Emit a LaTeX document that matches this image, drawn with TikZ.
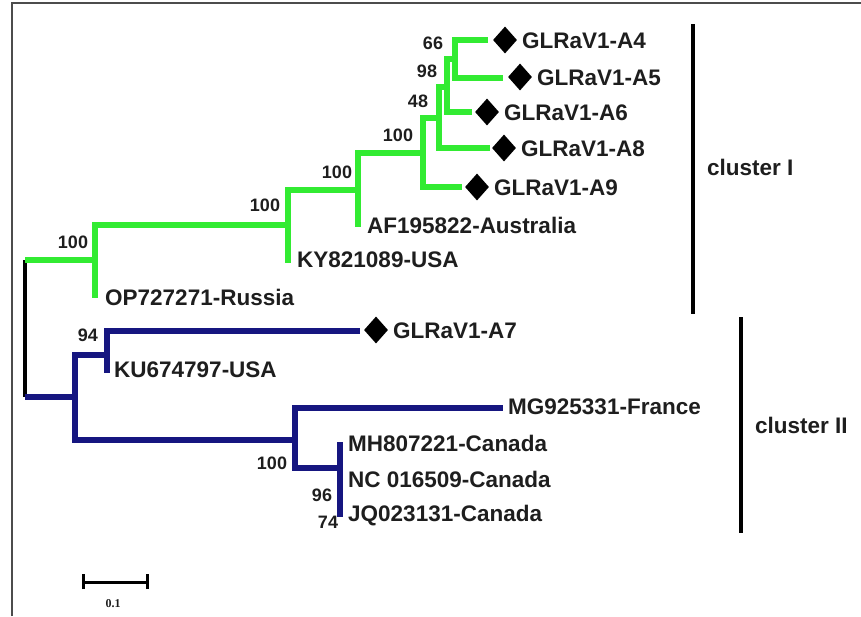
\documentclass[tikz,border=0pt]{standalone}
\usepackage{fontspec}
\setmainfont{Liberation Sans}
\newfontfamily\barfont{Liberation Serif}
\usepackage{tikz}
\usetikzlibrary{shapes.geometric}
\definecolor{cladegreen}{RGB}{50,235,50}
\definecolor{cladenavy}{RGB}{22,22,128}
\definecolor{labelink}{RGB}{30,30,30}

\begin{document}
\begin{tikzpicture}[x=1pt, y=-1pt,
      greenbranch/.style={draw=cladegreen, line width=5.5pt},
      navybranch/.style={draw=cladenavy, line width=5.5pt},
      rootline/.style={draw=black, line width=3.5pt},
      clusterbar/.style={draw=black, line width=4pt},
      gem/.style={diamond, fill=black, inner sep=0pt, minimum width=24pt, minimum height=27pt},
      taxon/.style={anchor=west, inner sep=0pt, text=labelink, font=\fontsize{22.5}{24}\selectfont\bfseries},
      boot/.style={inner sep=0pt, text=labelink, font=\fontsize{18}{19}\selectfont\bfseries}
    ]
      \useasboundingbox (0,0) rectangle (861,616);
      \draw[gray!60!black, line width=1.5pt] (12,616) -- (12,3) -- (861,3);

      % tree nodes
      \coordinate (rtop) at (25,260);
      \coordinate (rbot) at (25,397);
      \coordinate (nG) at (95,260);   \coordinate (op) at (95,298);
      \coordinate (nB) at (288,225);  \coordinate (ky) at (288,263);
      \coordinate (nC) at (358,190);  \coordinate (af) at (358,227);
      \coordinate (nD) at (423,153);  \coordinate (a9tip) at (462,187);
      \coordinate (n48) at (439,118); \coordinate (a8tip) at (490,148);
      \coordinate (n98) at (447,87);  \coordinate (a6tip) at (472,112);
      \coordinate (n66) at (455,59);  \coordinate (a4tip) at (488,40);
      \coordinate (a5tip) at (503,78);
      \coordinate (nG2) at (75,397);
      \coordinate (nH) at (107,355);  \coordinate (a7tip) at (360,331);
      \coordinate (ku) at (107,373);
      \coordinate (nI) at (295,440);  \coordinate (mgtip) at (503,408);
      \coordinate (nJ) at (340,468);  \coordinate (mh) at (340,442);
      \coordinate (jq) at (340,517);

      % branches
      \draw[rootline] (rtop) -- (rbot);
      \draw[greenbranch] (rtop) -- (nG);
      \draw[greenbranch] (nG) |- (nB);
      \draw[greenbranch] (nG) -- (op);
      \draw[greenbranch] (nB) |- (nC);
      \draw[greenbranch] (nB) -- (ky);
      \draw[greenbranch] (nC) |- (nD);
      \draw[greenbranch] (nC) -- (af);
      \draw[greenbranch] (nD) |- (n48);
      \draw[greenbranch] (nD) |- (a9tip);
      \draw[greenbranch] (n48) |- (n98);
      \draw[greenbranch] (n48) |- (a8tip);
      \draw[greenbranch] (n98) |- (n66);
      \draw[greenbranch] (n98) |- (a6tip);
      \draw[greenbranch] (n66) |- (a4tip);
      \draw[greenbranch] (n66) |- (a5tip);

      \draw[navybranch] (rbot) -- (nG2);
      \draw[navybranch] (nG2) |- (nH);
      \draw[navybranch] (nG2) |- (nI);
      \draw[navybranch] (nH) |- (a7tip);
      \draw[navybranch] (nH) -- (ku);
      \draw[navybranch] (nI) |- (mgtip);
      \draw[navybranch] (nI) |- (nJ);
      \draw[navybranch] (mh) -- (jq);

      % markers and taxa
      \node[gem] (a4d) at (505,40) {};
      \node[gem] (a5d) at (520,77) {};
      \node[gem] (a6d) at (487,112) {};
      \node[gem] (a8d) at (504,148) {};
      \node[gem] (a9d) at (477,187) {};
      \node[gem] (a7d) at (376,330) {};
      \node[taxon] (a4) at (522,41) {GLRaV1-A4};
      \node[taxon] (a5) at (537,78) {GLRaV1-A5};
      \node[taxon] (a6) at (504,113) {GLRaV1-A6};
      \node[taxon] (a8) at (521,149) {GLRaV1-A8};
      \node[taxon] (a9) at (494,188) {GLRaV1-A9};
      \node[taxon] (afl) at (367,225) {AF195822-Australia};
      \node[taxon] (kyl) at (297,260) {KY821089-USA};
      \node[taxon] (opl) at (105,297) {OP727271-Russia};
      \node[taxon] (a7) at (393,331) {GLRaV1-A7};
      \node[taxon] (kul) at (114,370) {KU674797-USA};
      \node[taxon] (mgl) at (508,407) {MG925331-France};
      \node[taxon] (mhl) at (348,443) {MH807221-Canada};
      \node[taxon] (ncl) at (348,479) {NC 016509-Canada};
      \node[taxon] (jql) at (348,516) {JQ023131-Canada};

      % bootstrap values
      \node[boot] (b66) at (433,43) {66};
      \node[boot] (b98) at (427,71) {98};
      \node[boot] (b48) at (418,101) {48};
      \node[boot] (bD) at (398,135) {100};
      \node[boot] (bC) at (337,172) {100};
      \node[boot] (bB) at (265,205) {100};
      \node[boot] (bG) at (73,242) {100};
      \node[boot] (b94) at (88,335) {94};
      \node[boot] (bI) at (272,463) {100};
      \node[boot] (b96) at (322,495) {96};
      \node[boot] (b74) at (328,522) {74};

      % clusters
      \coordinate (c1top) at (693,24);  \coordinate (c1bot) at (693,314);
      \coordinate (c2top) at (741,317); \coordinate (c2bot) at (741,533);
      \draw[clusterbar] (c1top) -- (c1bot);
      \draw[clusterbar] (c2top) -- (c2bot);
      \node[taxon] (cl1) at (707,167) {cluster I};
      \node[taxon] (cl2) at (755,425) {cluster II};

      % scale bar
      \coordinate (sbl) at (83,582); \coordinate (sbr) at (147,582);
      \draw[line width=3pt] (sbl) -- (sbr);
      \draw[line width=3pt] ([yshift=-7pt]sbl) -- ([yshift=8pt]sbl);
      \draw[line width=3pt] ([yshift=-7pt]sbr) -- ([yshift=8pt]sbr);
      \node[inner sep=0pt, font=\barfont\fontsize{12}{13}\selectfont\bfseries, text=labelink] (sbt) at (113,604) {0.1};
    \end{tikzpicture}
\end{document}
